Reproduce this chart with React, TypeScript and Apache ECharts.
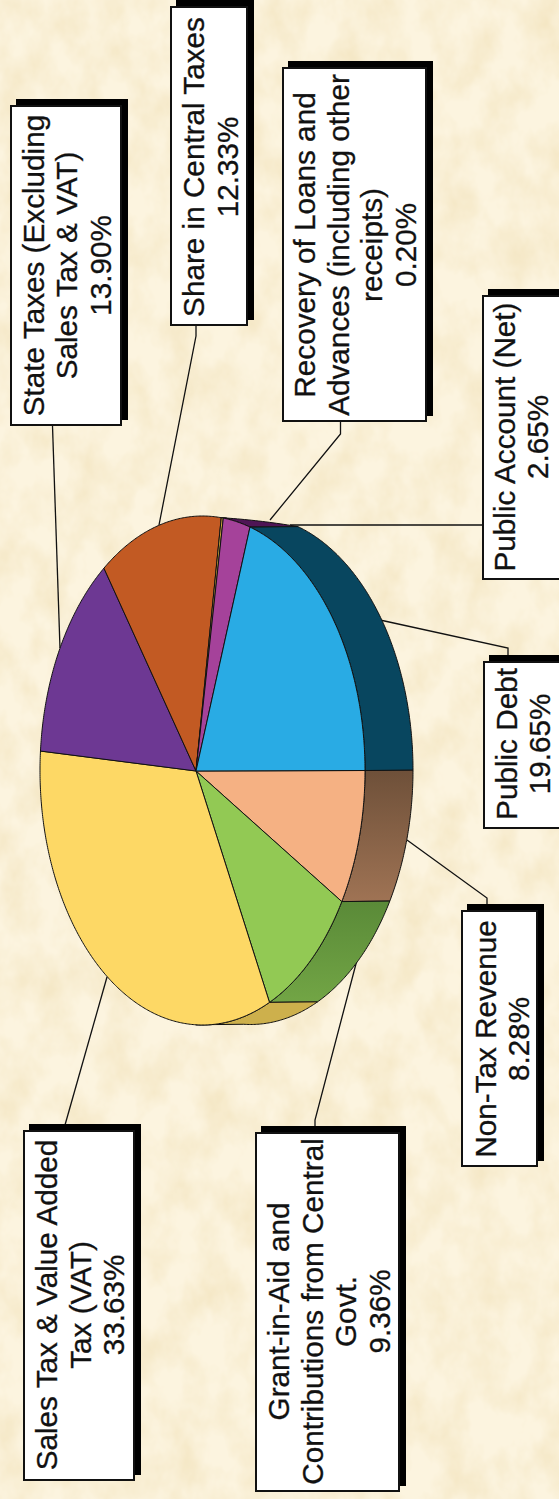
import React, { useEffect, useRef } from "react";
import * as echarts from "echarts";

const categories = [
  "Non-Tax Revenue",
  "Grant-in-Aid and\nContributions from Central\nGovt.",
  "Sales Tax & Value Added\nTax (VAT)",
  "State Taxes (Excluding\nSales Tax & VAT)",
  "Share in Central Taxes",
  "Recovery of Loans and\nAdvances (including other\nreceipts)",
  "Public Account (Net)",
  "Public Debt",
];
const values = [8.28, 9.36, 33.63, 13.9, 12.33, 0.2, 2.65, 19.65];
const topColors = ["#F5B183", "#92C954", "#FDD865", "#6D3893", "#C25A23", "#D0A83C", "#A5429A", "#29ABE4"];
const wallTopColors = ["#6E5039", "#5A8A38", "#CDB04C", "#4F1555", "#4F1555", "#4F1555", "#4F1555", "#08465F"];
const wallBottomColors = ["#9F7354", "#72A545", "#CDB04C", "#4F1555", "#4F1555", "#4F1555", "#4F1555", "#08465F"];

// Pie geometry on the page
const APEX = [196, 771];
const CENTER = [202.5, 770.5];
const RX = 162.5;
const RY = 254.5;
const DEPTH_X = 48;
const DEPTH_Y = -0.5;
const WARP = 2.4; // perspective skew of the disc, degrees
const WALL_START = 279; // where the far wall comes out from behind the disc
const WALL_FULL = 289.3;

// Label layout: [boxLeft, boxTop, boxRight, boxBottom, textCentreX, textCentreY]
const boxLayout = [
  [461, 910, 538, 1167, 502, 1039],
  [255, 1132, 400, 1492, 329, 1311.5],
  [23, 1130, 135, 1481, 80, 1305],
  [10, 105, 122, 426, 66.7, 265.5],
  [170, 6, 248, 326, 210.5, 167],
  [282, 67, 427, 422, 355, 245],
  [482, 295, 600, 580, 521, 437],
  [483, 661, 600, 829, 523, 744],
];
const leaderLayout = [
  [[487, 905], [487, 898], [407, 840]],
  [[315, 1128], [315, 1120], [357, 960]],
  [[65, 1125], [107, 977]],
  [[52.5, 426], [60, 648]],
  [[196, 326], [196, 336], [159, 525]],
  [[340.5, 422], [340.5, 434], [270, 520]],
  [[482, 525], [290, 525]],
  [[508, 655], [508, 648], [380, 620]],
];

const SHADOW = 6;
const BORDER = 2;
const FONT = 29.7;
const LINE = 33.5;

const totals = values.reduce((a, b) => a + b, 0);
const angleSpan = (i: number) => {
  let s = 0;
  for (let k = 0; k < i; k++) s += values[k];
  return [(s / totals) * 360, ((s + values[i]) / totals) * 360];
};
const wallDepth = (deg: number) =>
  deg >= 270 && deg < WALL_FULL ? Math.max(0, (deg - WALL_START) / (WALL_FULL - WALL_START)) : 1;
const rim = (deg: number, depth = 0) => {
  const t = ((deg + WARP * Math.sin((deg * Math.PI) / 180)) * Math.PI) / 180;
  return [CENTER[0] + RX * Math.cos(t) + DEPTH_X * depth, CENTER[1] + RY * Math.sin(t) + DEPTH_Y * depth];
};
const arc = (a: number, b: number, outer = false) => {
  const pts: number[][] = [];
  const n = Math.max(2, Math.ceil(Math.abs(b - a) * 2));
  for (let i = 0; i <= n; i++) {
    const d = a + ((b - a) * i) / n;
    pts.push(rim(d, outer ? wallDepth(d) : 0));
  }
  return pts;
};

const renderTop = (params: any) => {
  const i = params.dataIndex;
  const [a, b] = angleSpan(i);
  return {
    type: "polygon",
    shape: { points: [APEX, ...arc(a, b)] },
    style: { fill: topColors[i], stroke: "#111", lineWidth: 1 },
  };
};

const renderWall = (params: any) => {
  const i = params.dataIndex;
  const [a, b] = angleSpan(i);
  const ranges = [
    [Math.max(a, 0), Math.min(b, 90)],
    [Math.max(a, WALL_START - 0.01), Math.min(b, 360)],
  ].filter((r) => r[1] > r[0]);
  return {
    type: "group",
    children: ranges.map((r) => ({
      type: "polygon",
      shape: { points: [...arc(r[0], r[1]), ...arc(r[0], r[1], true).reverse()] },
      style: {
        fill: new echarts.graphic.LinearGradient(0, 0, 0, 1, [
          { offset: 0, color: wallTopColors[i] },
          { offset: 1, color: wallBottomColors[i] },
        ]),
        stroke: "#111",
        lineWidth: 1,
      },
    })),
  };
};

const buildGraphics = () => {
  const out: any[] = [];
  leaderLayout.forEach((pts) => {
    out.push({
      type: "polyline",
      z: 1,
      shape: { points: pts },
      style: { stroke: "#111", lineWidth: 1.3, fill: "none" },
    });
  });
  boxLayout.forEach((b, i) => {
    const [l, t, r, bt, cx, cy] = b;
    out.push({
      type: "rect",
      z: 5,
      shape: { x: l + SHADOW, y: t - SHADOW, width: r - l, height: bt - t },
      style: { fill: "#000" },
    });
    out.push({
      type: "rect",
      z: 6,
      shape: { x: l + BORDER / 2, y: t + BORDER / 2, width: r - l - BORDER, height: bt - t - BORDER },
      style: { fill: "#fff", stroke: "#111", lineWidth: BORDER },
    });
    out.push({
      type: "text",
      z: 7,
      x: cx,
      y: cy,
      rotation: Math.PI / 2,
      style: {
        text: `${categories[i]}\n${values[i].toFixed(2)}%`,
        font: `${FONT}px "Liberation Sans", Arial, sans-serif`,
        fill: "#111",
        stroke: "#111",
        lineWidth: 0.3,
        align: "center",
        verticalAlign: "middle",
        lineHeight: LINE,
      },
    });
  });
  return out;
};

export default function App() {
  const ref = useRef<HTMLDivElement>(null);
  useEffect(() => {
    document.body.style.margin = "0";
    const chart = echarts.init(ref.current!, undefined, { renderer: "svg" });
    chart.setOption({
      animation: false,
      backgroundColor: "transparent",
      graphic: { elements: buildGraphics() },
      series: [
        { type: "custom", coordinateSystem: "none", silent: true, z: 2, data: values, renderItem: renderWall },
        { type: "custom", coordinateSystem: "none", silent: true, z: 3, data: values, renderItem: renderTop },
      ],
    });
    return () => chart.dispose();
  }, []);
  return (
    <div style={{ position: "relative", width: 559, height: 1499, overflow: "hidden", background: "#FCF4DF" }}>
      <svg width={559} height={1499} style={{ position: "absolute", left: 0, top: 0 }}>
        <filter id="parchment" x="0" y="0" width="100%" height="100%" colorInterpolationFilters="sRGB">
          <feTurbulence type="fractalNoise" baseFrequency="0.03 0.022" numOctaves={4} seed={7} />
          <feColorMatrix values="0 0 0 0 0.955  0 0 0 0 0.90  0 0 0 0 0.76  1.6 0 0 0 -0.55" />
        </filter>
        <rect width={559} height={1499} filter="url(#parchment)" />
      </svg>
      <div ref={ref} style={{ position: "absolute", left: 0, top: 0, width: 559, height: 1499 }} />
    </div>
  );
}
